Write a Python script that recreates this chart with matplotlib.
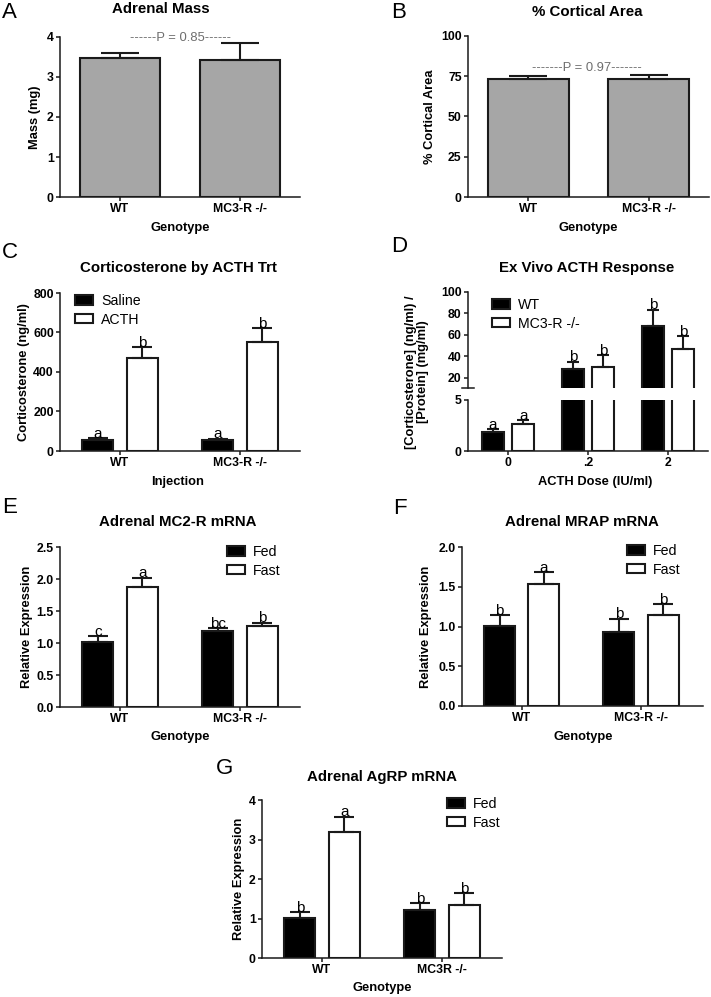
import matplotlib
matplotlib.use("Agg")
import matplotlib.pyplot as plt
import numpy as np

plt.rcParams['font.family'] = ['Liberation Sans', 'DejaVu Sans']

# ---------------- data ----------------
genotypes = ['WT', 'MC3-R -/-']
genotypes_g = ['WT', 'MC3R -/-']

mass_mean = [3.47, 3.43]
mass_sem = [0.12, 0.42]

cortical_mean = [73.3, 73.4]
cortical_sem = [1.9, 2.5]

cort_saline = [55, 54]
cort_saline_sem = [10, 9]
cort_acth = [471, 552]
cort_acth_sem = [55, 70]
cort_let_saline = ['a', 'a']
cort_let_acth = ['b', 'b']

doses = ['0', '.2', '2']
exv_wt = [1.85, 28.5, 68.0]
exv_wt_sem = [0.3, 6.5, 15.5]
exv_ko = [2.65, 30.0, 46.5]
exv_ko_sem = [0.4, 11.0, 12.5]
exv_let_wt = ['a', 'b', 'b']
exv_let_ko = ['a', 'b', 'b']

mc2r_fed = [1.01, 1.18]
mc2r_fed_sem = [0.10, 0.05]
mc2r_fast = [1.88, 1.27]
mc2r_fast_sem = [0.14, 0.05]
mc2r_let_fed = ['c', 'bc']
mc2r_let_fast = ['a', 'b']

mrap_fed = [1.01, 0.93]
mrap_fed_sem = [0.13, 0.17]
mrap_fast = [1.54, 1.15]
mrap_fast_sem = [0.14, 0.13]
mrap_let_fed = ['b', 'b']
mrap_let_fast = ['a', 'b']

agrp_fed = [1.01, 1.22]
agrp_fed_sem = [0.15, 0.17]
agrp_fast = [3.18, 1.33]
agrp_fast_sem = [0.40, 0.31]
agrp_let_fed = ['b', 'b']
agrp_let_fast = ['a', 'b']

# ---------------- helpers ----------------
W, H = 711, 997
fig = plt.figure(figsize=(W / 100, H / 100), dpi=100)

EDGE = '#1a1a1a'
TICK_FS = 8.8
LAB_FS = 9.3
TITLE_FS = 10.8
LET_FS = 11
LEG_FS = 10.2
PANEL_FS = 16


def box(l, t, r, b):
    return [l / W, 1 - b / H, (r - l) / W, (b - t) / H]


def ftext(x, y, s, **kw):
    fig.text(x / W, 1 - y / H, s, **kw)


def style(ax, pos):
    for s in ['top', 'right']:
        ax.spines[s].set_visible(False)
    for s in ['left', 'bottom']:
        ax.spines[s].set_linewidth(1.1)
        ax.spines[s].set_color(EDGE)
    ax.tick_params(direction='out', length=3, width=1.1, color=EDGE, pad=1.5)
    for lab in ax.get_xticklabels() + ax.get_yticklabels():
        lab.set_fontweight('bold')
        lab.set_fontsize(TICK_FS)


def labels(ax, pos, xlab, xl_xy, ylab, yl_x):
    l, t, r, b = pos
    ax.set_xlabel(xlab, fontsize=LAB_FS, fontweight='bold')
    ax.xaxis.set_label_coords((xl_xy[0] - l) / (r - l), (b - xl_xy[1]) / (b - t))
    ax.xaxis.label.set_va('center')
    ax.set_ylabel(ylab, fontsize=LAB_FS, fontweight='bold', linespacing=1.0)
    ax.yaxis.set_label_coords((yl_x - l) / (r - l), 0.5)
    ax.yaxis.label.set_va('center')


def bars(ax, x, vals, sems, color, width, cap, lets=None):
    ax.bar(x, vals, width=width, color=color, edgecolor=EDGE, linewidth=1.5, zorder=2)
    ax.errorbar(x, vals, yerr=[np.zeros(len(vals)), sems], fmt='none',
                ecolor=EDGE, elinewidth=1.5, capsize=cap, capthick=1.5, zorder=3)
    if lets is not None:
        for xi, v, e, s in zip(x, vals, sems, lets):
            ax.annotate(s, (xi, v + e), xytext=(0, -2), textcoords='offset points',
                        ha='center', va='bottom', fontsize=LET_FS, zorder=4)


def legend(ax, handles, names, left, top):
    ax.legend(handles, names, loc='upper left', bbox_to_anchor=(left / W, 1 - top / H),
              bbox_transform=fig.transFigure, frameon=False, fontsize=LEG_FS,
              handlelength=1.3, handleheight=0.62, handletextpad=0.55,
              labelspacing=0.32, borderpad=0, borderaxespad=0)


hb = plt.Rectangle((0, 0), 1, 1, facecolor='black', edgecolor=EDGE, linewidth=1.5)
hw = plt.Rectangle((0, 0), 1, 1, facecolor='white', edgecolor=EDGE, linewidth=1.5)

# ---------------- A ----------------
posA = (60, 37, 300, 197)
axA = fig.add_axes(box(*posA))
xA = np.arange(len(genotypes))
bars(axA, xA, mass_mean, mass_sem, '#a6a6a6', 0.67, 14)
axA.set_xlim(-0.5, 1.5)
axA.set_ylim(0, 4)
axA.set_yticks([0, 1, 2, 3, 4])
axA.set_xticks(xA)
axA.set_xticklabels(genotypes)
style(axA, posA)
labels(axA, posA, 'Genotype', (180, 228), 'Mass (mg)', 35)
ftext(161, 9, 'Adrenal Mass', fontsize=TITLE_FS, fontweight='bold', ha='center', va='center')
ftext(2, 13, 'A', fontsize=PANEL_FS, ha='left', va='center')
ftext(180, 38, '------P = 0.85------', fontsize=9.4, color='#6e6e6e', ha='center', va='center')

# ---------------- B ----------------
posB = (468, 36, 709, 197)
axB = fig.add_axes(box(*posB))
bars(axB, xA, cortical_mean, cortical_sem, '#a6a6a6', 0.67, 14)
axB.set_xlim(-0.5, 1.5)
axB.set_ylim(0, 100)
axB.set_yticks([0, 25, 50, 75, 100])
axB.set_xticks(xA)
axB.set_xticklabels(genotypes)
style(axB, posB)
labels(axB, posB, 'Genotype', (588, 228), '% Cortical Area', 430)
ftext(587, 12, '% Cortical Area', fontsize=TITLE_FS, fontweight='bold', ha='center', va='center')
ftext(391, 13, 'B', fontsize=PANEL_FS, ha='left', va='center')
ftext(587, 68, '-------P = 0.97-------', fontsize=9.4, color='#6e6e6e', ha='center', va='center')

# ---------------- C ----------------
posC = (60, 293, 300, 451)
axC = fig.add_axes(box(*posC))
off, bw = 0.185, 0.26
bars(axC, xA - off, cort_saline, cort_saline_sem, 'black', bw, 7, cort_let_saline)
bars(axC, xA + off, cort_acth, cort_acth_sem, 'white', bw, 7, cort_let_acth)
axC.set_xlim(-0.5, 1.5)
axC.set_ylim(0, 800)
axC.set_yticks([0, 200, 400, 600, 800])
axC.set_xticks(xA)
axC.set_xticklabels(genotypes)
style(axC, posC)
labels(axC, posC, 'Injection', (178, 482), 'Corticosterone (ng/ml)', 24)
ftext(178, 268, 'Corticosterone by ACTH Trt', fontsize=TITLE_FS, fontweight='bold', ha='center', va='center')
ftext(2, 252, 'C', fontsize=PANEL_FS, ha='left', va='center')
legend(axC, [hb, hw], ['Saline', 'ACTH'], 75, 294)

# ---------------- D (broken axis) ----------------
posDu = (468, 292, 708, 388.5)
posDl = (468, 400, 708, 451)
axDu = fig.add_axes(box(*posDu))
axDl = fig.add_axes(box(*posDl))
xD = np.arange(len(doses))
offD, bwD = 0.19, 0.27
for ax in (axDu, axDl):
    bars(ax, xD - offD, exv_wt, exv_wt_sem, 'black', bwD, 4.5)
    bars(ax, xD + offD, exv_ko, exv_ko_sem, 'white', bwD, 4.5)
    ax.set_xlim(-0.5, 2.5)
for xi, v, e, s in zip(np.r_[xD - offD, xD + offD], exv_wt + exv_ko,
                       exv_wt_sem + exv_ko_sem, exv_let_wt + exv_let_ko):
    ax = axDl if v + e < 5 else axDu
    ax.annotate(s, (xi, v + e), xytext=(0, -2), textcoords='offset points',
                ha='center', va='bottom', fontsize=LET_FS, zorder=4)
axDu.set_ylim(10, 100)
axDu.set_yticks([20, 40, 60, 80, 100])
axDl.set_ylim(0, 5)
axDl.set_yticks([0, 5])
axDu.spines['bottom'].set_visible(False)
axDu.set_xticks([])
axDl.set_xticks(xD)
axDl.set_xticklabels(doses)
style(axDu, posDu)
style(axDl, posDl)
axDu.plot([-0.025, 0.025], [0, 0], transform=axDu.transAxes, color=EDGE, lw=1.1, clip_on=False)
axDl.set_xlabel('ACTH Dose (IU/ml)', fontsize=LAB_FS, fontweight='bold')
axDl.xaxis.set_label_coords((595 - 468) / 240, (451 - 482) / 51)
axDl.xaxis.label.set_va('center')
ftext(417, 372, '[Corticosterone] (ng/ml) /\n[Protein] (mg/ml)', fontsize=LAB_FS, fontweight='bold',
      rotation=90, ha='center', va='center', linespacing=1.0)
ftext(587, 268, 'Ex Vivo ACTH Response', fontsize=TITLE_FS, fontweight='bold', ha='center', va='center')
ftext(391, 246, 'D', fontsize=PANEL_FS, ha='left', va='center')
legend(axDu, [hb, hw], ['WT', 'MC3-R -/-'], 492, 298)

# ---------------- E ----------------
posE = (60, 547, 300, 707)
axE = fig.add_axes(box(*posE))
bars(axE, xA - off, mc2r_fed, mc2r_fed_sem, 'black', bw, 7, mc2r_let_fed)
bars(axE, xA + off, mc2r_fast, mc2r_fast_sem, 'white', bw, 7, mc2r_let_fast)
axE.set_xlim(-0.5, 1.5)
axE.set_ylim(0, 2.5)
axE.set_yticks([0, 0.5, 1.0, 1.5, 2.0, 2.5])
axE.set_yticklabels(['0.0', '0.5', '1.0', '1.5', '2.0', '2.5'])
axE.set_xticks(xA)
axE.set_xticklabels(genotypes)
style(axE, posE)
labels(axE, posE, 'Genotype', (180, 737), 'Relative Expression', 27)
ftext(178, 522, 'Adrenal MC2-R mRNA', fontsize=TITLE_FS, fontweight='bold', ha='center', va='center')
ftext(2, 507, 'E', fontsize=PANEL_FS, ha='left', va='center')
legend(axE, [hb, hw], ['Fed', 'Fast'], 227, 545)

# ---------------- F ----------------
posF = (462, 547, 703, 706)
axF = fig.add_axes(box(*posF))
bars(axF, xA - off, mrap_fed, mrap_fed_sem, 'black', bw, 7, mrap_let_fed)
bars(axF, xA + off, mrap_fast, mrap_fast_sem, 'white', bw, 7, mrap_let_fast)
axF.set_xlim(-0.5, 1.52)
axF.set_ylim(0, 2.0)
axF.set_yticks([0, 0.5, 1.0, 1.5, 2.0])
axF.set_yticklabels(['0.0', '0.5', '1.0', '1.5', '2.0'])
axF.set_xticks(xA)
axF.set_xticklabels(genotypes)
style(axF, posF)
labels(axF, posF, 'Genotype', (583, 737), 'Relative Expression', 426)
ftext(582, 522, 'Adrenal MRAP mRNA', fontsize=TITLE_FS, fontweight='bold', ha='center', va='center')
ftext(393, 508, 'F', fontsize=PANEL_FS, ha='left', va='center')
legend(axF, [hb, hw], ['Fed', 'Fast'], 627, 544)

# ---------------- G ----------------
posG = (262, 800, 502, 958)
axG = fig.add_axes(box(*posG))
bars(axG, xA - off, agrp_fed, agrp_fed_sem, 'black', bw, 7, agrp_let_fed)
bars(axG, xA + off, agrp_fast, agrp_fast_sem, 'white', bw, 7, agrp_let_fast)
axG.set_xlim(-0.5, 1.5)
axG.set_ylim(0, 4)
axG.set_yticks([0, 1, 2, 3, 4])
axG.set_xticks(xA)
axG.set_xticklabels(genotypes_g)
style(axG, posG)
labels(axG, posG, 'Genotype', (382, 988), 'Relative Expression', 239)
ftext(382, 777, 'Adrenal AgRP mRNA', fontsize=TITLE_FS, fontweight='bold', ha='center', va='center')
ftext(216, 768, 'G', fontsize=PANEL_FS, ha='left', va='center')
legend(axG, [hb, hw], ['Fed', 'Fast'], 447, 797)

fig.savefig('out.png', dpi=100)
